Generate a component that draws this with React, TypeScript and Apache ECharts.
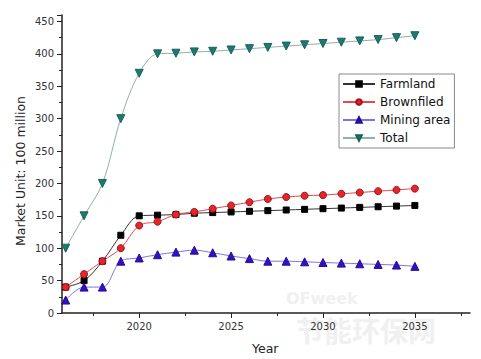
import React, { useEffect, useRef } from "react";
import * as echarts from "echarts";

const years = [2016, 2017, 2018, 2019, 2020, 2021, 2022, 2023, 2024, 2025, 2026, 2027, 2028, 2029, 2030, 2031, 2032, 2033, 2034, 2035];
const farmland = [40, 50, 80, 120, 150, 151, 152, 154, 155, 156, 157, 158, 159, 160, 161, 162, 163, 164, 165, 166];
const brownfield = [40, 60, 80, 100, 135, 141, 152, 156, 161, 166, 171, 176, 179, 181, 182, 184, 186, 188, 190, 192];
const mining = [20, 40, 40, 80, 85, 90, 94, 97, 93, 88, 84, 80, 80, 79, 78, 77, 76, 75, 74, 72];
const total = [100, 150, 200, 300, 370, 400, 401, 403, 404, 406, 408, 410, 412, 414, 416, 418, 420, 422, 425, 428];
const xLabels = [2020, 2025, 2030, 2035];
const xMinor = [2017.5, 2022.5, 2027.5, 2032.5, 2037.5];

const pair = (arr: number[]) => years.map((y, i) => [y, arr[i]]);

export default function App() {
  const ref = useRef<HTMLDivElement>(null);
  useEffect(() => {
    const chart = echarts.init(ref.current!, null, { renderer: "svg" });
    const font = "'DejaVu Sans', sans-serif";
    const mk = (name: string, data: number[], symbol: string, size: number, fill: string, border: string, line: string, rotate = 0) => ({
      name,
      type: "line",
      data: pair(data),
      smooth: 0.35,
      symbol,
      symbolSize: size,
      symbolRotate: rotate,
      showAllSymbol: true,
      itemStyle: { color: fill, borderColor: border, borderWidth: 1 },
      lineStyle: { color: line, width: 1 },
      z: 3,
    });
    chart.setOption({
      animation: false,
      backgroundColor: "#ffffff",
      textStyle: { fontFamily: font },
      grid: { left: 62, right: 11, top: 15, bottom: 46 },
      legend: {
        orient: "vertical",
        left: 339,
        top: 74,
        padding: [3, 4, 3, 3],
        itemGap: 4,
        itemWidth: 32,
        itemHeight: 7,
        borderColor: "#8a8a8a",
        borderWidth: 1,
        textStyle: { fontSize: 12, color: "#111", fontFamily: font, lineHeight: 14 },
        data: ["Farmland", "Brownfiled", "Mining area", "Total"],
      },
      xAxis: [
        {
          type: "value",
          min: 2015.8,
          max: 2038,
          splitLine: { show: false },
          axisLine: { lineStyle: { color: "#222", width: 1.5 } },
          axisTick: { customValues: xLabels, length: 5, lineStyle: { color: "#222" } },
          axisLabel: { customValues: xLabels, fontSize: 10, color: "#333", margin: 8, formatter: (v: number) => String(v) },
        },
        {
          type: "value",
          min: 2015.8,
          max: 2038,
          position: "bottom",
          splitLine: { show: false },
          axisLine: { show: false },
          axisTick: { customValues: xMinor, length: 3, lineStyle: { color: "#222" } },
          axisLabel: { show: false },
        },
      ],
      yAxis: {
        type: "value",
        min: 0,
        max: 460,
        interval: 50,
        splitLine: { show: false },
        axisLine: { show: true, lineStyle: { color: "#222", width: 1.5 } },
        axisTick: { show: true, length: 5, lineStyle: { color: "#222" } },
        minorTick: { show: true, splitNumber: 2, length: 3, lineStyle: { color: "#222" } },
        axisLabel: { fontSize: 10, color: "#333", margin: 8, showMaxLabel: false },
      },
      graphic: [
        {
          type: "text",
          x: 20,
          y: 171,
          rotation: Math.PI / 2,
          style: { text: "Market Unit: 100 million", fontSize: 12.5, fill: "#222", fontFamily: font, align: "center", verticalAlign: "middle" },
        },
        { type: "text", left: 252, top: 342, style: { text: "Year", fontSize: 12.5, fill: "#222", fontFamily: font } },
        { type: "text", left: 286, top: 290, z: 0, style: { text: "OFweek", fontSize: 16, fontWeight: "bold", fill: "#f0f0f0", fontFamily: font } },
        { type: "text", left: 296, top: 316, z: 0, style: { text: "节能环保网", fontSize: 28, fontWeight: "bold", fill: "#f0f0f0", fontFamily: "'Noto Sans CJK SC', sans-serif" } },
      ],
      series: [
        mk("Farmland", farmland, "rect", 6, "#000000", "#000000", "#333333"),
        mk("Brownfiled", brownfield, "circle", 7, "#e5242b", "#a01418", "#e34a4a"),
        mk("Mining area", mining, "triangle", 8, "#3310c0", "#2a0a9a", "#7d74e0"),
        mk("Total", total, "triangle", 8, "#1e7a70", "#176258", "#8fb0ab", 180),
      ],
    });
    return () => chart.dispose();
  }, []);
  return <div ref={ref} style={{ position: "fixed", left: 0, top: 0, width: 481, height: 359 }} />;
}
